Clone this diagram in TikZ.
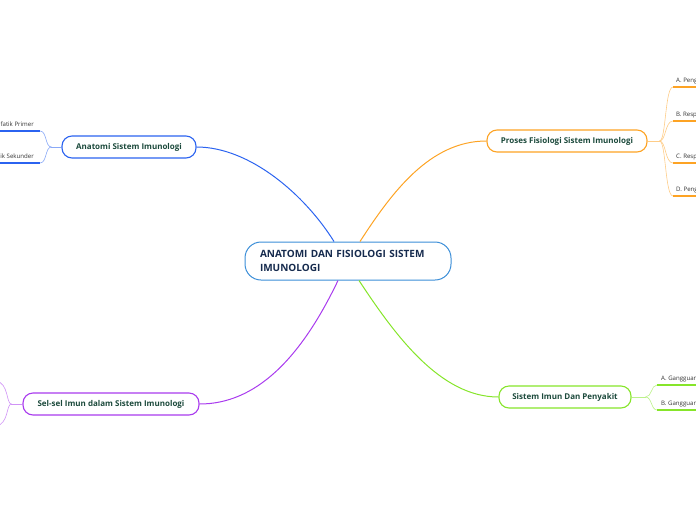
\documentclass[tikz,border=0pt]{standalone}
\usepackage{fontspec}
\setmainfont{Open Sans}
\definecolor{rootBlue}{HTML}{3B8ED8}
\definecolor{anatomiBlue}{HTML}{2B63F0}
\definecolor{prosesOrange}{HTML}{FDA324}
\definecolor{penyakitGreen}{HTML}{86E52A}
\definecolor{selPurple}{HTML}{A93BEE}
\definecolor{topicInk}{HTML}{1C4A3C}
\definecolor{rootInk}{HTML}{162B4E}
\tikzset{
  topic/.style={draw=#1, line width=1.1pt, fill=white, rounded corners=10pt,
    minimum height=22pt, text=topicInk, font=\fontsize{8}{10}\selectfont\bfseries},
  branch/.style={draw=#1, line width=1pt},
  fork/.style={draw=#1!55, line width=0.6pt},
  leaf/.style={font=\fontsize{6.1}{7}\selectfont, text=black!80, inner ysep=2.5pt},
  leafLine/.style={draw=#1, line width=1.4pt}
}
\begin{document}
\begin{tikzpicture}[x=1pt,y=-1pt]
  \useasboundingbox (0,0) rectangle (696,520);
  \clip (0,0) rectangle (696,520);

  % central topic
  \node[draw=rootBlue, line width=1pt, fill=white, rounded corners=16pt,
        minimum width=206pt, minimum height=38pt, text width=176pt, align=left,
        text=rootInk, font=\fontsize{10}{14}\selectfont\bfseries]
        (rootNode) at (348,261) {ANATOMI DAN FISIOLOGI SISTEM\\IMUNOLOGI};

  % main topics
  \node[topic=anatomiBlue, minimum width=134pt] (anatomiNode) at (129,147) {Anatomi Sistem Imunologi};
  \node[topic=prosesOrange, minimum width=160pt] (prosesNode) at (567,141) {Proses Fisiologi Sistem Imunologi};
  \node[topic=penyakitGreen, minimum width=132pt] (penyakitNode) at (565,397) {Sistem Imun Dan Penyakit};
  \node[topic=selPurple, minimum width=176pt] (selNode) at (111,404) {Sel-sel Imun dalam Sistem Imunologi};

  % connectors from the centre
  \draw[branch=anatomiBlue] ([xshift=-14pt]rootNode.north) .. controls (305,195) and (250,147) .. (anatomiNode.east);
  \draw[branch=prosesOrange] ([xshift=12pt]rootNode.north) .. controls (392,192) and (430,141) .. (prosesNode.west);
  \draw[branch=penyakitGreen] ([xshift=11pt]rootNode.south) .. controls (395,335) and (440,397) .. (penyakitNode.west);
  \draw[branch=selPurple] ([xshift=-10pt]rootNode.south) .. controls (300,360) and (255,404) .. (selNode.east);

  % Anatomi: leaves on the left
  \draw[fork=anatomiBlue] (anatomiNode.west) -- ++(-10,0) coordinate (anatomiFork);
  \foreach \y/\name/\txt in {131/primerLeaf/Organ Limfatik Primer, 163/sekunderLeaf/Organ Limfatik Sekunder} {
      \node[leaf, anchor=south east, inner xsep=6pt] (\name) at (40,\y) {\txt};
      \draw[fork=anatomiBlue] (anatomiFork) .. controls (45,147) and (47,\y) .. (\name.south east);
      \draw[leafLine=anatomiBlue] (\name.south west) -- (\name.south east);
  }

  % Proses: leaves on the right
  \draw[fork=prosesOrange] (prosesNode.east) -- ++(12,0) coordinate (prosesFork);
  \foreach \y/\name/\txt in {87/pengenalanLeaf/A. Pengenalan Antigen,
                             121/nonspesifikLeaf/B. Respon Imun Nonspesifik,
                             163/spesifikLeaf/C. Respon Imun Spesifik,
                             196/pengaturanLeaf/D. Pengaturan Respon Imun} {
      \node[leaf, anchor=south west, inner xsep=3pt] (\name) at (673,\y) {\txt};
      \draw[fork=prosesOrange] (prosesFork) .. controls (666,141) and (665,\y) .. (\name.south west);
      \draw[leafLine=prosesOrange] (\name.south west) -- (\name.south east);
  }

  % Penyakit: leaves on the right
  \draw[fork=penyakitGreen] (penyakitNode.east) -- ++(14,0) coordinate (penyakitFork);
  \foreach \y/\name/\txt in {385/defisiensiLeaf/A. Gangguan Imunodefisiensi,
                             410/hipersensLeaf/B. Gangguan Hipersensitivitas} {
      \node[leaf, anchor=south west, inner xsep=4pt] (\name) at (657,\y) {\txt};
      \draw[fork=penyakitGreen] (penyakitFork) .. controls (652,397) and (651,\y) .. (\name.south west);
      \draw[leafLine=penyakitGreen] (\name.south west) -- (\name.south east);
  }

  % Sel-sel: leaves run off the left edge
  \draw[fork=selPurple] (selNode.west) -- ++(-11,0) coordinate (selFork);
  \coordinate (selUp) at (-4,381);
  \coordinate (selDown) at (-4,426);
  \draw[fork=selPurple] (selFork) .. controls (6,404) and (9,383) .. (selUp);
  \draw[fork=selPurple] (selFork) .. controls (6,404) and (9,424) .. (selDown);
\end{tikzpicture}
\end{document}
